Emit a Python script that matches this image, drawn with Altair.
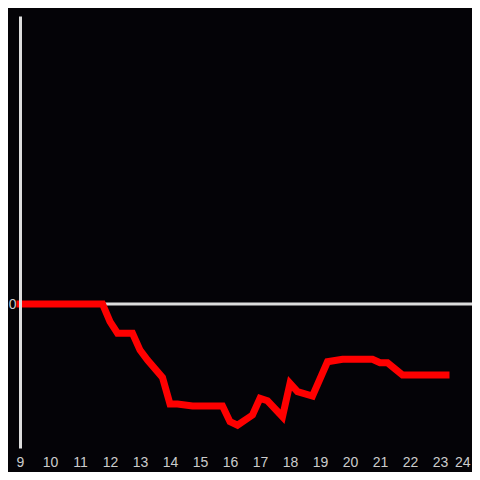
import altair as alt
import pandas as pd

hours = [9.0, 11.75, 12.0, 12.25, 12.75, 13.0, 13.25, 13.75, 14.0, 14.25, 14.75,
         15.75, 16.0, 16.25, 16.75, 17.0, 17.25, 17.75, 18.0, 18.25, 18.75,
         19.25, 19.75, 20.75, 21.0, 21.25, 21.75, 23.2]
values = [0.0, 0.0, -0.123, -0.203, -0.203, -0.32, -0.39, -0.51, -0.694, -0.694, -0.708,
          -0.708, -0.817, -0.842, -0.771, -0.655, -0.672, -0.783, -0.551, -0.609, -0.639,
          -0.401, -0.384, -0.384, -0.408, -0.408, -0.493, -0.493]
x_ticks = list(range(9, 25))
y_ticks = [0]

df = pd.DataFrame({"hour": hours, "value": values})

W, H = 450, 432
BG = "#040307"

xs = alt.Scale(domain=[9, 24], nice=False)
ys = alt.Scale(domain=[-1, 2], nice=False)

x_axis = alt.Axis(values=x_ticks, domain=False, ticks=False, grid=False, title=None,
                  labelColor="#cccccc", labelFontSize=14, labelFont="Liberation Sans",
                  labelPadding=7,
                  labelAlign={"expr": "datum.value == 24 ? 'right' : 'center'"})
y_axis = alt.Axis(values=y_ticks, domain=True, domainColor="#dddddd", domainWidth=3,
                  ticks=False, grid=False, title=None, labelColor="#cccccc",
                  labelFontSize=14, labelFont="Liberation Sans", labelPadding=4, zindex=1)

rule = alt.Chart(pd.DataFrame({"z": [0]})).mark_rule(color="#dddddd", strokeWidth=3).encode(
    y=alt.Y("z:Q", scale=ys, axis=y_axis),
    x=alt.value(0),
    x2=alt.value(W + 2),
)

line = alt.Chart(df).mark_line(color="#ff0000", strokeWidth=7, strokeCap="square",
                               strokeJoin="miter").encode(
    x=alt.X("hour:Q", scale=xs, axis=x_axis),
    y=alt.Y("value:Q", scale=ys, axis=y_axis),
)

chart = alt.layer(rule, line).properties(
    width=W, height=H,
    background=BG,
    autosize=alt.AutoSizeParams(type="none"),
    padding={"left": 12, "top": 8, "right": 2, "bottom": 24},
).configure_view(stroke=None)

chart.save("out.html", embed_options={"renderer": "svg", "actions": False})
